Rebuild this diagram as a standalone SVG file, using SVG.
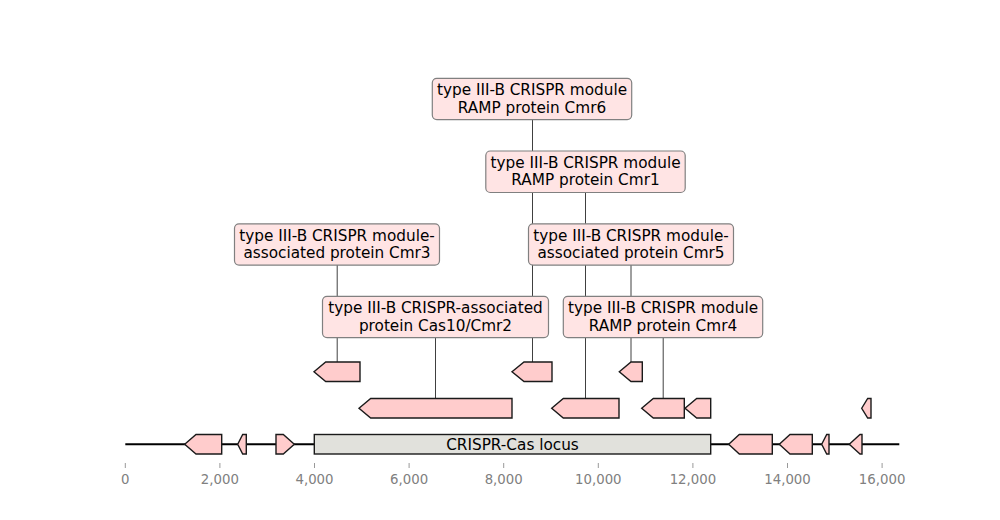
<svg xmlns="http://www.w3.org/2000/svg" width="1000" height="520" viewBox="0 0 1000 520">
<style>
.lbl rect{fill:#ffe4e4;stroke:#808080;stroke-width:1.2}
.lbl text{font-family:"DejaVu Sans",sans-serif;font-size:15.28px;fill:#000;text-anchor:middle}
.feat{fill:#ffcccc;stroke:#1a1a1a;stroke-width:1.4;stroke-linejoin:miter}
.con line{stroke:#404040;stroke-width:1}
.tick{stroke:#999;stroke-width:1}
.tl{font-family:"DejaVu Sans",sans-serif;font-size:13.3px;fill:#808080;text-anchor:middle}
</style>
<rect width="1000" height="520" fill="#fff"/>
<g id="connectors" class="con">
<line x1="532.5" y1="119" x2="532.5" y2="362"/>
<line x1="585.5" y1="192" x2="585.5" y2="398.5"/>
<line x1="337.2" y1="265" x2="337.2" y2="362"/>
<line x1="631" y1="265" x2="631" y2="362"/>
<line x1="435.5" y1="337" x2="435.5" y2="398.5"/>
<line x1="663.2" y1="337" x2="663.2" y2="398.5"/>
</g>
<g id="axis">
<line x1="125.3" y1="444.3" x2="899.3" y2="444.3" stroke="#000" stroke-width="2"/>
<g class="tick">
<line x1="125.3" y1="463" x2="125.3" y2="468"/>
<line x1="219.9" y1="463" x2="219.9" y2="468"/>
<line x1="314.5" y1="463" x2="314.5" y2="468"/>
<line x1="409.1" y1="463" x2="409.1" y2="468"/>
<line x1="503.7" y1="463" x2="503.7" y2="468"/>
<line x1="598.3" y1="463" x2="598.3" y2="468"/>
<line x1="692.9" y1="463" x2="692.9" y2="468"/>
<line x1="787.5" y1="463" x2="787.5" y2="468"/>
<line x1="882.1" y1="463" x2="882.1" y2="468"/>
</g>
<text class="tl" x="125.3" y="484">0</text>
<text class="tl" x="219.9" y="484">2,000</text>
<text class="tl" x="314.5" y="484">4,000</text>
<text class="tl" x="409.1" y="484">6,000</text>
<text class="tl" x="503.7" y="484">8,000</text>
<text class="tl" x="598.3" y="484">10,000</text>
<text class="tl" x="692.9" y="484">12,000</text>
<text class="tl" x="787.5" y="484">14,000</text>
<text class="tl" x="882.1" y="484">16,000</text>
</g>
<g id="features">
<polygon class="feat" points="184.7,444.25 196,434.5 221.7,434.5 221.7,454 196,454"/>
<polygon class="feat" points="237.7,444.25 242.7,434.5 246.3,434.5 246.3,454 242.7,454"/>
<polygon class="feat" points="276,434.5 283.3,434.5 294.3,444.25 283.3,454 276,454"/>
<g id="locus">
<rect x="314.3" y="434.5" width="396.4" height="19.5" fill="#e1e1dc" stroke="#1a1a1a" stroke-width="1.4"/>
<text x="512.5" y="449.5" font-family="DejaVu Sans, sans-serif" font-size="15.28px" text-anchor="middle" fill="#000">CRISPR-Cas locus</text>
</g>
<polygon class="feat" points="728.7,444.25 739.3,434.5 772.3,434.5 772.3,454 739.3,454"/>
<polygon class="feat" points="779.3,444.25 790,434.5 812.3,434.5 812.3,454 790,454"/>
<polygon class="feat" points="821.7,444.25 826.7,434.5 829,434.5 829,454 826.7,454"/>
<polygon class="feat" points="849.3,444.25 860,434.5 862,434.5 862,454 860,454"/>
<polygon class="feat" points="359,408.25 370.7,398.5 512,398.5 512,418 370.7,418"/>
<polygon class="feat" points="551.7,408.25 563.3,398.5 619,398.5 619,418 563.3,418"/>
<polygon class="feat" points="641.7,408.25 653.3,398.5 684.3,398.5 684.3,418 653.3,418"/>
<polygon class="feat" points="685,408.25 696.7,398.5 710.7,398.5 710.7,418 696.7,418"/>
<polygon class="feat" points="861.7,408.25 867.7,398.5 871,398.5 871,418 867.7,418"/>
<polygon class="feat" points="314,371.75 325.7,362 360,362 360,381.5 325.7,381.5"/>
<polygon class="feat" points="512,371.75 524,362 552,362 552,381.5 524,381.5"/>
<polygon class="feat" points="619.3,371.75 631,362 642.3,362 642.3,381.5 631,381.5"/>
</g>
<g id="cmr6" class="lbl">
<rect x="432.3" y="78.3" width="199.4" height="41.3" rx="4.5"/>
<text x="532" y="95.3">type III-B CRISPR module</text>
<text x="532" y="112.8">RAMP protein Cmr6</text>
</g>
<g id="cmr1" class="lbl">
<rect x="485.8" y="151" width="199.4" height="41.5" rx="4.5"/>
<text x="585.5" y="167.8">type III-B CRISPR module</text>
<text x="585.5" y="185.3">RAMP protein Cmr1</text>
</g>
<g id="cmr3" class="lbl">
<rect x="234.5" y="223.8" width="205" height="41.3" rx="4.5"/>
<text x="337" y="240.6">type III-B CRISPR module-</text>
<text x="337" y="258.1">associated protein Cmr3</text>
</g>
<g id="cmr5" class="lbl">
<rect x="528.5" y="223.8" width="205" height="41.3" rx="4.5"/>
<text x="631" y="240.6">type III-B CRISPR module-</text>
<text x="631" y="258.1">associated protein Cmr5</text>
</g>
<g id="cas10" class="lbl">
<rect x="322.5" y="296.3" width="226" height="41.3" rx="4.5"/>
<text x="435.5" y="313.1">type III-B CRISPR-associated</text>
<text x="435.5" y="330.6">protein Cas10/Cmr2</text>
</g>
<g id="cmr4" class="lbl">
<rect x="563.3" y="296.3" width="199.4" height="41.3" rx="4.5"/>
<text x="663" y="313.1">type III-B CRISPR module</text>
<text x="663" y="330.6">RAMP protein Cmr4</text>
</g>
</svg>
